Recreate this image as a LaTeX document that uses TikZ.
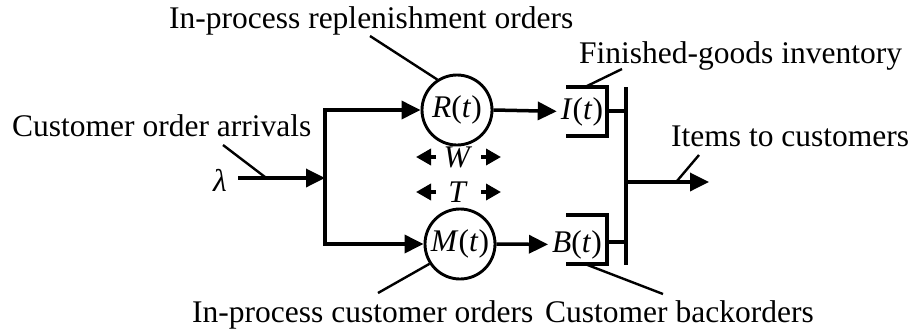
\documentclass[tikz,border=0pt]{standalone}
\usepackage{fontspec}
\setmainfont{Liberation Serif}
\usetikzlibrary{arrows.meta}
\begin{document}
\begin{tikzpicture}[x=1pt,y=-1pt,
  every node/.style={font=\fontsize{31.5}{36}\selectfont, inner sep=0pt},
  flow/.style={line width=3.5pt, -{Triangle[length=19pt,width=18pt]}},
  wire/.style={line width=3.5pt},
  ptr/.style={line width=2.4pt},
  proc/.style={circle, draw, line width=2.9pt, minimum size=70pt},
  dimarrow/.style={line width=3.5pt, -{Triangle[length=15pt,width=16pt]}},
  lbl/.style={anchor=base west},
  var/.style={anchor=base}]
\useasboundingbox (0,0) rectangle (914,333);

% process circles and stock labels
\node[proc] (R) at (457,110) {\textit{R}(\textit{t})};
\node[proc] (M) at (460,244) {\textit{M}(\textit{t})};
\node[var] (I) at (582,119) {\textit{I}(\textit{t})};
\node[var] (B) at (577,252) {\textit{B}(\textit{t})};
\node[var] (lam) at (220,191) {\textit{λ}};
\node[var] (W) at (458,167) {\textit{W}};
\node[var] (T) at (458,202) {\textit{T}};

% text labels
\node[lbl] (tR) at (169,28) {In-process replenishment orders};
\node[lbl] (tF) at (579,63) {Finished-goods inventory};
\node[lbl] (tC) at (12,136) {Customer order arrivals};
\node[lbl] (tO) at (671,146) {Items to customers};
\node[lbl] (tM) at (192,322) {In-process customer orders};
\node[lbl] (tB) at (545,322) {Customer backorders};

% coordinates
\coordinate (lamS) at (238,178);
\coordinate (J) at (325,178);
\coordinate (Jt) at (325,110);
\coordinate (Jb) at (325,244);
\coordinate (busT) at (626,87);
\coordinate (busB) at (626,265);
\coordinate (Ic) at (607,111);
\coordinate (Bc) at (607,242);
\coordinate (outS) at (626,182);
\coordinate (outE) at (709,182);
\coordinate (Wl) at (416,157);
\coordinate (Wla) at (436,157);
\coordinate (Wra) at (481,157);
\coordinate (Wr) at (501,157);
\coordinate (Tl) at (416,192);
\coordinate (Tla) at (436,192);
\coordinate (Tra) at (481,192);
\coordinate (Tr) at (501,192);

% flows
\draw[flow] (lamS) -- (J);
\draw[flow] (Jb) -- (Jt) -- (R.west);
\draw[flow] (Jt) -- (Jb) -- (M.west);
\draw[flow, shorten >=4pt] (R.east) -- (I.west);
\draw[flow, shorten >=4pt] (M.east) -- (B.west);

% stock brackets
\draw[wire] (566,87) -- (607,87) -- (607,136) -- (566,136);
\draw[wire] (566,215) -- (607,215) -- (607,264) -- (566,264);
\draw[wire] (Ic) -- (Ic -| busT);
\draw[wire] (Bc) -- (Bc -| busT);
\draw[wire] (busT) -- (busB);
\draw[flow] (outS) -- (outE);

% W and T arrows
\draw[dimarrow] (Wla) -- (Wl);
\draw[dimarrow] (Wra) -- (Wr);
\draw[dimarrow] (Tla) -- (Tl);
\draw[dimarrow] (Tra) -- (Tr);

% pointer lines
\coordinate (pR) at (370,36);
\coordinate (pC) at (223,145);
\coordinate (pCe) at (265,177);
\coordinate (pF) at (622,69);
\coordinate (pFe) at (585,87);
\coordinate (pO) at (699,155);
\coordinate (pOe) at (677,181);
\coordinate (pM) at (378,293);
\coordinate (pB) at (663,294);
\coordinate (pBe) at (585,264);
\draw[ptr] (pR) -- (R.123);
\draw[ptr] (pC) -- (pCe);
\draw[ptr] (pF) -- (pFe);
\draw[ptr] (pO) -- (pOe);
\draw[ptr] (pM) -- (M.213);
\draw[ptr] (pB) -- (pBe);
\end{tikzpicture}
\end{document}
